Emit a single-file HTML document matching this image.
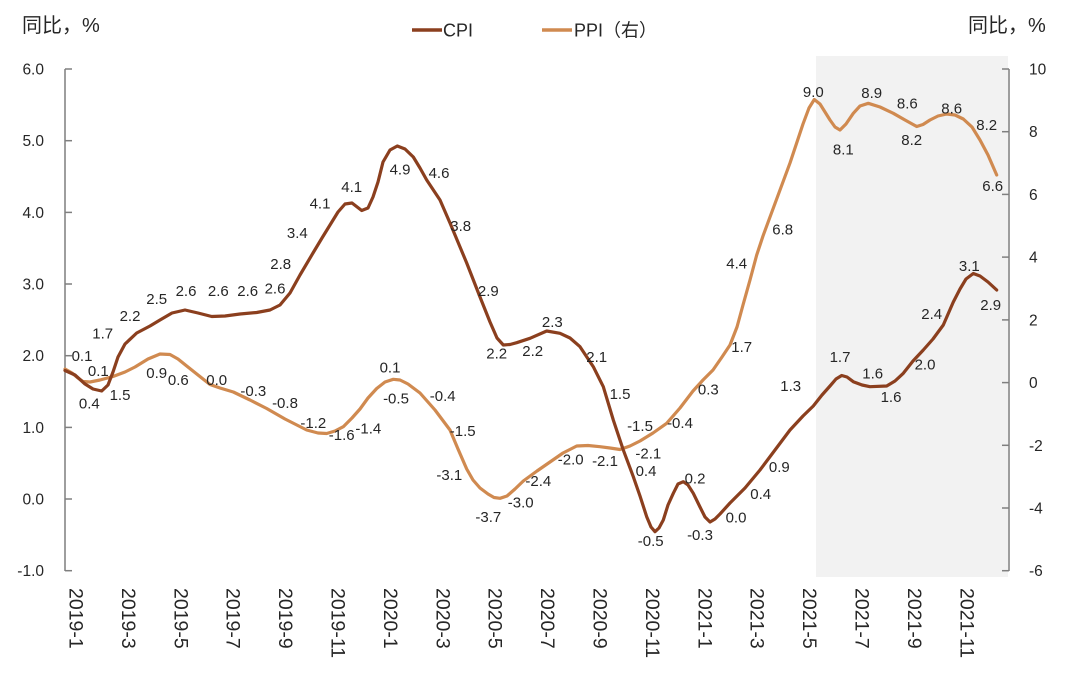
<!DOCTYPE html>
<html>
<head>
<meta charset="utf-8">
<style>
html,body{margin:0;padding:0;background:#fff;}
svg{display:block;}
text{font-family:"Liberation Sans","Noto Sans CJK SC",sans-serif;fill:#262626;}
</style>
</head>
<body>
<svg width="1088" height="673" viewBox="0 0 1088 673" xmlns="http://www.w3.org/2000/svg">
<rect x="0" y="0" width="1088" height="673" fill="#fff"/>
<!-- forecast shading -->
<rect x="816" y="56" width="192" height="521" fill="#f2f2f2"/>

<!-- titles -->
<text x="22" y="32" font-size="20">同比，%</text>
<text x="968" y="32" font-size="20">同比，%</text>

<!-- legend -->
<line x1="412" y1="30" x2="442" y2="30" stroke="#8B3F1E" stroke-width="3.5"/>
<text x="443" y="36.5" font-size="18">CPI</text>
<line x1="542" y1="30" x2="572" y2="30" stroke="#D08A50" stroke-width="3.5"/>
<text x="574" y="36.5" font-size="18">PPI（右）</text>

<!-- left axis -->
<g stroke="#7f7f7f" stroke-width="1.5" fill="none">
<line x1="65" y1="69" x2="65" y2="571"/>
<line x1="65" y1="69" x2="72" y2="69"/>
<line x1="65" y1="140.7" x2="72" y2="140.7"/>
<line x1="65" y1="212.4" x2="72" y2="212.4"/>
<line x1="65" y1="284" x2="72" y2="284"/>
<line x1="65" y1="355.7" x2="72" y2="355.7"/>
<line x1="65" y1="427.4" x2="72" y2="427.4"/>
<line x1="65" y1="499" x2="72" y2="499"/>
<line x1="65" y1="570.7" x2="72" y2="570.7"/>
</g>
<g font-size="15.5" text-anchor="end">
<text x="44" y="74.5">6.0</text>
<text x="44" y="146.2">5.0</text>
<text x="44" y="217.9">4.0</text>
<text x="44" y="289.5">3.0</text>
<text x="44" y="361.2">2.0</text>
<text x="44" y="432.9">1.0</text>
<text x="44" y="504.5">0.0</text>
<text x="44" y="576.2">-1.0</text>
</g>

<!-- right axis -->
<g stroke="#7f7f7f" stroke-width="1.5" fill="none">
<line x1="1009" y1="69" x2="1009" y2="571"/>
<line x1="1002" y1="69" x2="1009" y2="69"/>
<line x1="1002" y1="131.7" x2="1009" y2="131.7"/>
<line x1="1002" y1="194.4" x2="1009" y2="194.4"/>
<line x1="1002" y1="257.1" x2="1009" y2="257.1"/>
<line x1="1002" y1="319.9" x2="1009" y2="319.9"/>
<line x1="1002" y1="382.6" x2="1009" y2="382.6"/>
<line x1="1002" y1="445.3" x2="1009" y2="445.3"/>
<line x1="1002" y1="508" x2="1009" y2="508"/>
<line x1="1002" y1="570.7" x2="1009" y2="570.7"/>
</g>
<g font-size="15.5" text-anchor="start">
<text x="1029" y="74.5">10</text>
<text x="1029" y="137.2">8</text>
<text x="1029" y="199.9">6</text>
<text x="1029" y="262.6">4</text>
<text x="1029" y="325.4">2</text>
<text x="1029" y="388.1">0</text>
<text x="1029" y="450.8">-2</text>
<text x="1029" y="513.5">-4</text>
<text x="1029" y="576.2">-6</text>
</g>

<!-- x labels -->
<g font-size="19.5">
<text transform="translate(69.5,588) rotate(90)">2019-1</text>
<text transform="translate(121.9,588) rotate(90)">2019-3</text>
<text transform="translate(174.3,588) rotate(90)">2019-5</text>
<text transform="translate(226.7,588) rotate(90)">2019-7</text>
<text transform="translate(279.1,588) rotate(90)">2019-9</text>
<text transform="translate(331.5,588) rotate(90)">2019-11</text>
<text transform="translate(383.9,588) rotate(90)">2020-1</text>
<text transform="translate(436.3,588) rotate(90)">2020-3</text>
<text transform="translate(488.7,588) rotate(90)">2020-5</text>
<text transform="translate(541.1,588) rotate(90)">2020-7</text>
<text transform="translate(593.5,588) rotate(90)">2020-9</text>
<text transform="translate(645.9,588) rotate(90)">2020-11</text>
<text transform="translate(698.3,588) rotate(90)">2021-1</text>
<text transform="translate(750.7,588) rotate(90)">2021-3</text>
<text transform="translate(803.1,588) rotate(90)">2021-5</text>
<text transform="translate(855.5,588) rotate(90)">2021-7</text>
<text transform="translate(907.9,588) rotate(90)">2021-9</text>
<text transform="translate(960.3,588) rotate(90)">2021-11</text>
</g>

<!-- PPI line -->
<polyline fill="none" stroke="#D08A50" stroke-width="3.2" stroke-linejoin="round" stroke-linecap="round" points="
65,369 72,373 78,378 83,381.5 90,382 100,380 113,376.5 125,372 135,367 148,359 160,354 170,354.5 178,359 186.7,366 198,375 210,384.5 220,388 233.3,392 250,400 266.7,408.5 285,419 306.7,430 318,433 326.7,433.5 335,431 343.3,426.7 352,418 360,409 368,398 376.7,388.5 385,382 393.3,379.3 400,380 408,384 420,393 435,410 450,430 458,449 466.7,469 473,480 480,488 488,494 494,497.5 500,498.3 507,496 515,489 523.3,481 537,471 550,462 563,453 576.7,446 588,445.5 600,446.7 610,448 620,449.5 630,446 640,441 653,433 666.7,423.3 680,408 693,391 703,380 713,370 722,357 730,345 737,327 743,305 750,280 756.7,255 763,236 770,217 780,190 790,163 797,142 803,124 809,108 814.3,99.5 820,104 825,112 830,120 835,127 840,130 846,124 853.3,113.3 860,106 868.3,103.3 880,107 893.3,113.3 905,120 916.7,126.5 923,124.5 930,120 938,116 946.7,114 955,115 963.3,119 972,127 980,140 988,155 996.7,175"/>

<!-- CPI line -->
<polyline fill="none" stroke="#8B3F1E" stroke-width="3.2" stroke-linejoin="round" stroke-linecap="round" points="
65,370.5 75,375 85,384 93,389 101.7,391 108,385 113,372 118,357 125,344 136.7,333 150,326 160,320 172,313 185,310 198,313 211.7,316.5 225,316 240,314 256.7,312.5 270,310 280,305 290,293 300,275 313,253 322,238 330,225 338,212 345,204 352,203 361.7,210.5 368,208 373,197 378,182 383,162 390,150 397.3,146 405,149 413.3,157 420,168 426.7,180 440,200 450,223 466.7,263 480,297 490,322 497,338 503.3,345 510,344.5 516.7,342.7 530,338.3 546.7,331 560,333.3 570,338 580,346.7 593.3,366.7 603.3,386.7 613.3,420 623.3,450 633.3,476.7 640,496 646.7,516.7 651,527 655,531.7 659,528 663.3,520 668,505 673.3,493.3 678,484 683.3,481.7 688,485 693.3,493.3 700,507 705,517 710,522 715,519 720,514 730,503 745,488 760,470 775,450 790,430 803,416 813.3,406 822,395 830,386 836,379 841.7,375.5 847,377 853.3,381.7 862,385 870,386.7 886.7,386 895,381 903.3,373.3 913,361 923.3,350 933,339 943.3,325 953.3,302 960,289 966,279 973.3,273.5 980,276 988,282 996.7,290"/>

<!-- data labels -->
<g font-size="15" text-anchor="middle">
<!-- PPI -->
<text x="82" y="361">0.1</text>
<text x="98.3" y="376">0.1</text>
<text x="89.3" y="408.5">0.4</text>
<text x="156.7" y="378">0.9</text>
<text x="178.3" y="385.2">0.6</text>
<text x="216.7" y="385.2">0.0</text>
<text x="253.3" y="396">-0.3</text>
<text x="285" y="408">-0.8</text>
<text x="313.3" y="428">-1.2</text>
<text x="341.7" y="440.2">-1.6</text>
<text x="368.3" y="433.5">-1.4</text>
<text x="390" y="372.5">0.1</text>
<text x="396" y="403.5">-0.5</text>
<text x="442.7" y="401.2">-0.4</text>
<text x="462.7" y="436.2">-1.5</text>
<text x="449.3" y="480.2">-3.1</text>
<text x="488.3" y="522">-3.7</text>
<text x="520.7" y="507.5">-3.0</text>
<text x="538.3" y="486">-2.4</text>
<text x="570.7" y="464.5">-2.0</text>
<text x="605" y="466">-2.1</text>
<text x="640" y="431.2">-1.5</text>
<text x="648.3" y="458.5">-2.1</text>
<text x="680" y="428">-0.4</text>
<text x="708.3" y="394.5">0.3</text>
<text x="741.7" y="352">1.7</text>
<text x="736.7" y="268.5">4.4</text>
<text x="782.7" y="234.5">6.8</text>
<text x="813.3" y="97">9.0</text>
<text x="843.3" y="154.5">8.1</text>
<text x="871.7" y="98">8.9</text>
<text x="907.3" y="108.5">8.6</text>
<text x="911.7" y="145.2">8.2</text>
<text x="951.7" y="113.5">8.6</text>
<text x="986.7" y="130.2">8.2</text>
<text x="992.7" y="191.2">6.6</text>
<!-- CPI -->
<text x="102.7" y="338.5">1.7</text>
<text x="120" y="400.2">1.5</text>
<text x="130" y="321.2">2.2</text>
<text x="156.7" y="304.2">2.5</text>
<text x="186" y="296.2">2.6</text>
<text x="218.3" y="296.2">2.6</text>
<text x="247.7" y="296.2">2.6</text>
<text x="275" y="293.5">2.6</text>
<text x="280.7" y="269.2">2.8</text>
<text x="297.3" y="238">3.4</text>
<text x="320" y="208.5">4.1</text>
<text x="351.7" y="192">4.1</text>
<text x="400" y="174.5">4.9</text>
<text x="439" y="178">4.6</text>
<text x="460.7" y="231.2">3.8</text>
<text x="488.3" y="296">2.9</text>
<text x="496.7" y="358.5">2.2</text>
<text x="532.7" y="356.2">2.2</text>
<text x="552.3" y="327">2.3</text>
<text x="596.7" y="362">2.1</text>
<text x="620" y="399.2">1.5</text>
<text x="646" y="476">0.4</text>
<text x="650.7" y="546">-0.5</text>
<text x="695" y="483.5">0.2</text>
<text x="700" y="540.2">-0.3</text>
<text x="736" y="522.5">0.0</text>
<text x="760.7" y="499.2">0.4</text>
<text x="779.3" y="472">0.9</text>
<text x="790.7" y="391.2">1.3</text>
<text x="840" y="362">1.7</text>
<text x="872.7" y="378.5">1.6</text>
<text x="891" y="402">1.6</text>
<text x="925" y="369.5">2.0</text>
<text x="931.7" y="319.2">2.4</text>
<text x="969.3" y="271.2">3.1</text>
<text x="990.7" y="310.2">2.9</text>
</g>
</svg>
</body>
</html>
